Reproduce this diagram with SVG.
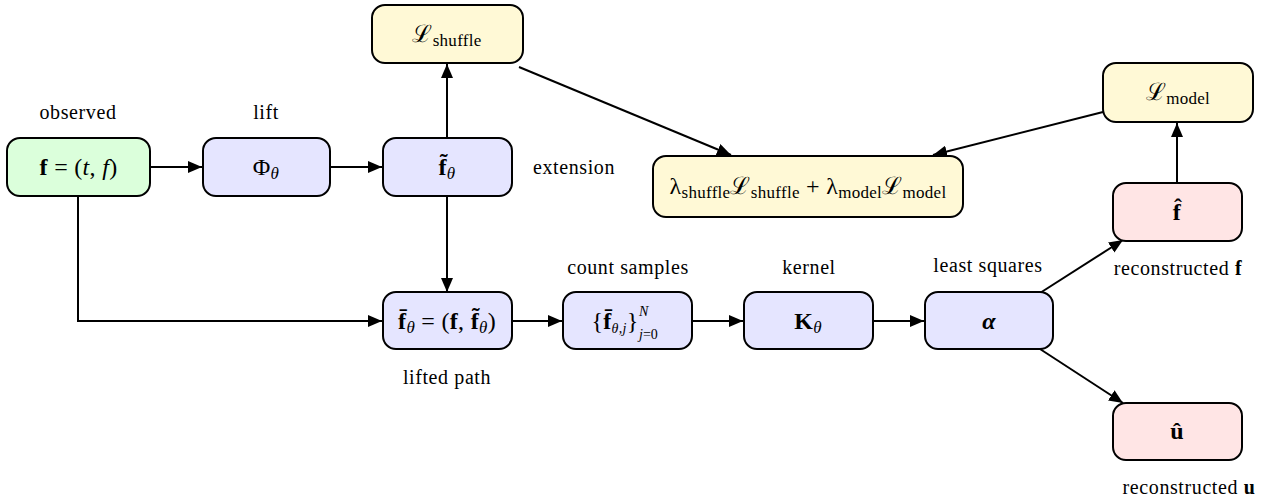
<svg xmlns="http://www.w3.org/2000/svg" width="1263" height="501" viewBox="0 0 1263 501">
<style>
.box{stroke:#000;stroke-width:2;}
.g{fill:#dbffdb}.b{fill:#e5e5ff}.y{fill:#fff9d6}.r{fill:#ffe5e5}
text{fill:#000}
.lbl{font-size:20px;letter-spacing:0.6px;text-anchor:middle}
.m{font-size:24px;letter-spacing:0.3px;text-anchor:middle}
.sub{font-size:17px}
.ss{font-size:14px}
.bf{font-weight:bold}
.it{font-style:italic}
.c{fill:none;stroke:#000;stroke-width:2;marker-end:url(#ah)}
</style>
<defs>
<marker id="ah" markerUnits="userSpaceOnUse" markerWidth="15" markerHeight="12" refX="14" refY="6" orient="auto">
<path d="M0,0 L14,6 L0,12 z" fill="#000"/>
</marker>
</defs>
<g id="connectors">
<path class="c" d="M150,167 H202"/>
<path class="c" d="M330,167 H382"/>
<path class="c" d="M447,138 V64"/>
<path class="c" d="M447,196 V292"/>
<path class="c" d="M78,196 V321 H382"/>
<path class="c" d="M512,321 H562"/>
<path class="c" d="M692,321 H743"/>
<path class="c" d="M873,321 H924"/>
<path class="c" d="M519,67 L731,155"/>
<path class="c" d="M1103,112 L933,155"/>
<path class="c" d="M1177,183 V123"/>
<path class="c" d="M1040,293 L1123,240"/>
<path class="c" d="M1040,349 L1123,403"/>
</g>
<g font-family="'Liberation Serif', 'Times New Roman', 'DejaVu Serif', serif">
<g id="n_f">
<rect class="box g" x="7" y="138" width="143" height="58" rx="13"/>
<text class="m" x="78.5" y="175"><tspan class="bf">f</tspan> = (<tspan class="it">t</tspan>, <tspan class="it">f</tspan>)</text>
<text class="lbl" x="78" y="119">observed</text>
</g>
<g id="n_phi">
<rect class="box b" x="203" y="138" width="127" height="58" rx="13"/>
<text class="m" x="266" y="175">Φ<tspan class="it sub" dy="4">θ</tspan></text>
<text class="lbl" x="266" y="119">lift</text>
</g>
<g id="n_ftilde">
<rect class="box b" x="383" y="138" width="129" height="58" rx="13"/>
<text class="m" x="447" y="175"><tspan class="bf">f̃</tspan><tspan class="it sub" dy="4">θ</tspan></text>
<text class="lbl" x="574" y="174">extension</text>
</g>
<g id="n_lshuffle">
<rect class="box y" x="372" y="5" width="151" height="58" rx="13"/>
<text class="m" x="447" y="42">ℒ<tspan class="sub" dy="4">shuffle</tspan></text>
</g>
<g id="n_sum">
<rect class="box y" x="653" y="156" width="310" height="61" rx="13"/>
<text class="m" x="808" y="194">λ<tspan class="sub" dy="4">shuffle</tspan><tspan dy="-4">ℒ</tspan><tspan class="sub" dy="4">shuffle</tspan><tspan dy="-4"> + λ</tspan><tspan class="sub" dy="4">model</tspan><tspan dy="-4">ℒ</tspan><tspan class="sub" dy="4">model</tspan></text>
</g>
<g id="n_lmodel">
<rect class="box y" x="1103" y="63" width="150" height="59" rx="13"/>
<text class="m" x="1178" y="100">ℒ<tspan class="sub" dy="4">model</tspan></text>
</g>
<g id="n_fhat">
<rect class="box r" x="1113" y="183" width="129" height="58" rx="13"/>
<text class="m bf" x="1177" y="220">f̂</text>
<text class="lbl" x="1178" y="275">reconstructed <tspan font-weight="bold">f</tspan></text>
</g>
<g id="n_fbar">
<rect class="box b" x="383" y="292" width="129" height="57" rx="13"/>
<text class="m" x="447" y="329"><tspan class="bf">f̄</tspan><tspan class="it sub" dy="4">θ</tspan><tspan dy="-4"> = (</tspan><tspan class="bf">f</tspan>, <tspan class="bf">f̃</tspan><tspan class="it sub" dy="4">θ</tspan><tspan dy="-4">)</tspan></text>
<text class="lbl" x="447" y="384">lifted path</text>
</g>
<g id="n_samples">
<rect class="box b" x="563" y="292" width="129" height="57" rx="13"/>
<text class="m" x="615" y="329">{<tspan class="bf">f̄</tspan><tspan class="it ss" dy="4">θ,j</tspan><tspan dy="-4">}</tspan></text>
<text class="it ss" x="639" y="316">N</text>
<text class="ss" x="639" y="339"><tspan class="it">j</tspan>=0</text>
<text class="lbl" x="628" y="274">count samples</text>
</g>
<g id="n_k">
<rect class="box b" x="744" y="292" width="129" height="57" rx="13"/>
<text class="m" x="808" y="329"><tspan class="bf">K</tspan><tspan class="it sub" dy="4">θ</tspan></text>
<text class="lbl" x="809" y="274">kernel</text>
</g>
<g id="n_alpha">
<rect class="box b" x="925" y="292" width="128" height="57" rx="13"/>
<text class="m bf it" x="989" y="329">α</text>
<text class="lbl" x="988" y="272">least squares</text>
</g>
<g id="n_uhat">
<rect class="box r" x="1113" y="403" width="129" height="57" rx="13"/>
<text class="m bf" x="1177" y="439">û</text>
<text class="lbl" x="1189" y="494">reconstructed <tspan font-weight="bold">u</tspan></text>
</g>
</g>
</svg>
